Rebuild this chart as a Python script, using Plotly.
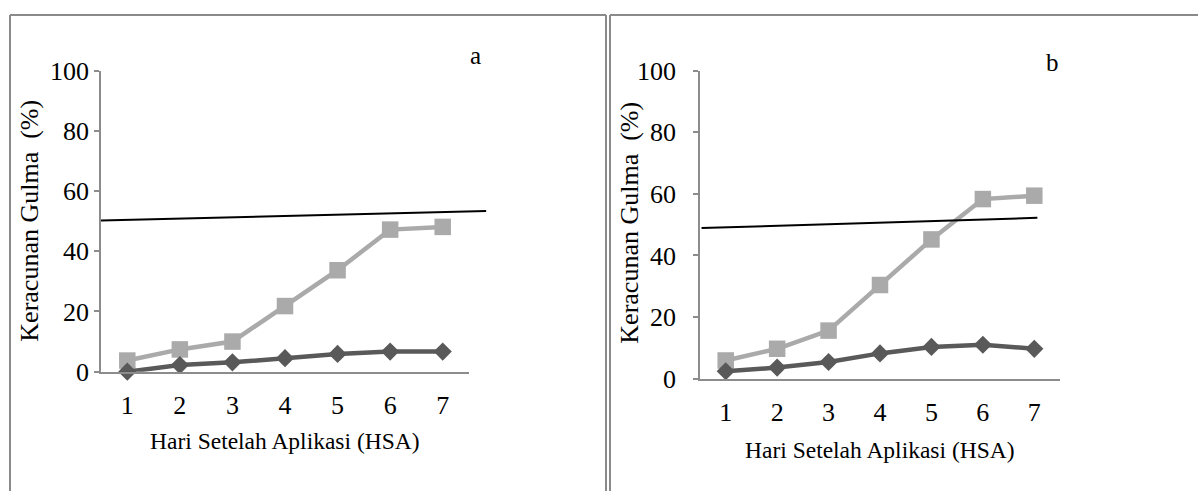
import plotly.graph_objects as go

W, H = 1198, 491

# ---------------- data ----------------
days = [1, 2, 3, 4, 5, 6, 7]
tick_vals_y = [0, 20, 40, 60, 80, 100]

a_square = [3.7, 7.4, 10.0, 21.8, 33.7, 47.2, 48.1]
a_diamond = [0.0, 2.2, 3.1, 4.5, 5.9, 6.7, 6.7]
a_ref_x = [0.5, 7.83]
a_ref_y = [50.2, 53.4]

b_square = [5.9, 9.7, 15.6, 30.4, 45.2, 58.3, 59.4]
b_diamond = [2.4, 3.6, 5.4, 8.2, 10.3, 11.0, 9.7]
b_ref_x = [0.53, 7.06]
b_ref_y = [48.9, 52.2]

x_title = "Hari Setelah Aplikasi (HSA)"
y_title = "Keracunan Gulma\u00a0\u00a0(%)"
panel_labels = ["a", "b"]

# ---------------- style ----------------
FONT = "Liberation Serif, Times New Roman, serif"
LIGHT = "#AAAAAA"
DARK = "#595959"
AXIS = "#8C8C8C"
BORDER = "#8A8A8A"

# vertical placement helper (target picture row -> figure row)
V_SCALE, V_OFF = 0.947, 13.0


def fy(y):
    return (y - V_OFF) / V_SCALE


def px(x):
    return x / W


def py(y):
    return (H - fy(y)) / H


fig = go.Figure()

fig.add_trace(go.Scatter(x=days, y=a_square, mode="lines+markers", xaxis="x3", yaxis="y",
                         line=dict(color=LIGHT, width=4.5),
                         marker=dict(symbol="square", size=16.5, color=LIGHT),
                         cliponaxis=False, showlegend=False))
fig.add_trace(go.Scatter(x=days, y=a_diamond, mode="lines+markers", xaxis="x3", yaxis="y",
                         line=dict(color=DARK, width=4.5),
                         marker=dict(symbol="diamond", size=14, color=DARK),
                         cliponaxis=False, showlegend=False))
fig.add_trace(go.Scatter(x=a_ref_x, y=a_ref_y, mode="lines", xaxis="x", yaxis="y",
                         line=dict(color="black", width=2), showlegend=False))

fig.add_trace(go.Scatter(x=days, y=b_square, mode="lines+markers", xaxis="x2", yaxis="y2",
                         line=dict(color=LIGHT, width=4.5),
                         marker=dict(symbol="square", size=16.5, color=LIGHT),
                         cliponaxis=False, showlegend=False))
fig.add_trace(go.Scatter(x=days, y=b_diamond, mode="lines+markers", xaxis="x2", yaxis="y2",
                         line=dict(color=DARK, width=4.5),
                         marker=dict(symbol="diamond", size=14, color=DARK),
                         cliponaxis=False, showlegend=False))
fig.add_trace(go.Scatter(x=b_ref_x, y=b_ref_y, mode="lines", xaxis="x2", yaxis="y2",
                         line=dict(color="black", width=2), showlegend=False))

tickfont = dict(family=FONT, size=26, color="black")

xdata_common = dict(range=[0.5, 7.5], tickvals=days, ticktext=[str(d) for d in days],
                    showline=True, linecolor=AXIS, linewidth=1.5, ticks="",
                    showgrid=False, zeroline=False, tickfont=tickfont,
                    ticklabelstandoff=9, fixedrange=True)
ycommon = dict(range=[0, 100], tickvals=tick_vals_y, showline=True, linecolor=AXIS,
               linewidth=1.5, ticks="outside", ticklen=5, tickcolor=AXIS, tickwidth=1.5,
               showgrid=False, zeroline=False, tickfont=tickfont, fixedrange=True)

a_left, a_axis_end = 101, 469
a_trend_end = a_left + (a_ref_x[1] - 0.5) * (a_axis_end - a_left) / 7.0

fig.update_layout(
    width=W, height=H,
    margin=dict(l=0, r=0, t=0, b=0),
    paper_bgcolor="white", plot_bgcolor="rgba(0,0,0,0)",
    xaxis=dict(domain=[px(a_left), px(a_trend_end)], range=[0.5, a_ref_x[1]],
               anchor="y", visible=False, fixedrange=True),
    xaxis3=dict(domain=[px(a_left), px(a_axis_end)], anchor="y", **xdata_common),
    yaxis=dict(domain=[py(373), py(70)], anchor="x3", ticklabelstandoff=0, **ycommon),
    xaxis2=dict(domain=[px(700), px(1060)], anchor="y2", **xdata_common),
    yaxis2=dict(domain=[py(380), py(70)], anchor="x2", ticklabelstandoff=12, **ycommon),
)

anns = [
    dict(text=x_title, x=px(285), y=py(443), font_size=23.5),
    dict(text=x_title, x=px(880), y=py(451.5), font_size=23.5),
    dict(text=y_title, x=px(30), y=py(221), textangle=-90, font_size=26),
    dict(text=y_title, x=px(630), y=py(223), textangle=-90, font_size=26),
    dict(text=panel_labels[0], x=px(475), y=py(55), font_size=25),
    dict(text=panel_labels[1], x=px(1052), y=py(62), font_size=25),
]
for a in anns:
    fs = a.pop("font_size")
    fig.add_annotation(xref="paper", yref="paper", xanchor="center", yanchor="middle",
                       showarrow=False, font=dict(family=FONT, size=fs, color="black"), **a)

top = 13.9
bottom = 510
borders = [
    (10, top, 10, bottom),
    (10, top, 606, top),
    (606, top, 606, bottom),
    (610, top, 610, bottom),
    (610, top, W + 2, top),
]
for x0, y0, x1, y1 in borders:
    fig.add_shape(type="line", xref="paper", yref="paper",
                  x0=px(x0), y0=py(y0), x1=px(x1), y1=py(y1),
                  line=dict(color=BORDER, width=2))

post = (
    "document.body.style.margin='0';"
    "document.documentElement.style.overflow='hidden';"
    "document.body.style.overflow='hidden';"
)

fig.write_html(
    "out.html",
    config={"displayModeBar": False},
    post_script=post,
)
